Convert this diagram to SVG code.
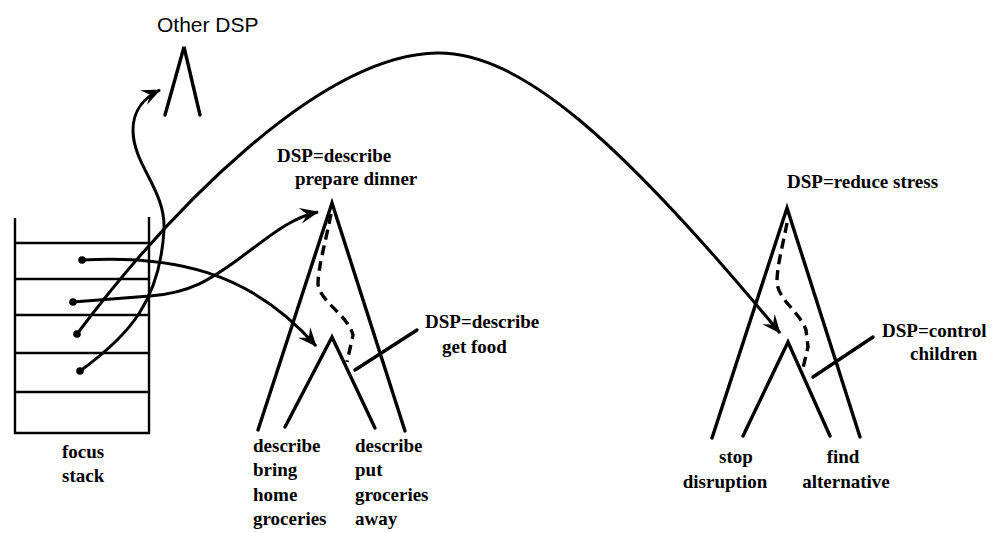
<svg xmlns="http://www.w3.org/2000/svg" width="995" height="533" viewBox="0 0 995 533">
<defs>
<style>
.ln{stroke:#000;stroke-width:3.4;fill:none;stroke-linecap:round}
.stk{stroke:#000;stroke-width:2.4;fill:none}
.dash{stroke:#000;stroke-width:3.4;fill:none;stroke-dasharray:10 6}
.con{stroke:#000;stroke-width:3;fill:none;marker-end:url(#ah)}
.t{font-family:"Liberation Serif","Times New Roman",serif;font-weight:bold;font-size:19px;fill:#000}
.s{font-family:"Liberation Sans",Arial,sans-serif;font-size:21px;fill:#000}
</style>
<marker id="ah" viewBox="-20 -10 22 20" refX="0" refY="0" markerWidth="22" markerHeight="20" markerUnits="userSpaceOnUse" orient="auto">
<path d="M1,0 L-18,-8 L-11,0 L-18,8 Z" fill="#000"/>
</marker>
</defs>
<rect width="995" height="533" fill="#fff"/>

<g id="focus-stack">
<path class="stk" d="M15,218 V433 H149 V217"/>
<path class="stk" d="M15,243 H149 M15,279 H149 M15,315 H149 M15,353 H149 M15,392 H149"/>
<circle cx="82" cy="260" r="3.8"/>
<circle cx="73" cy="302" r="3.8"/>
<circle cx="77" cy="334" r="3.8"/>
<circle cx="80" cy="371" r="3.8"/>
<text class="t" x="62" y="458">focus</text>
<text class="t" x="62" y="482">stack</text>
</g>

<g id="other-dsp">
<text class="s" x="157" y="32">Other DSP</text>
<path class="ln" d="M165,115 L184,47 L200,115"/>
</g>

<g id="tree-prepare-dinner">
<text class="t" x="277" y="162">DSP=describe</text>
<text class="t" x="295" y="185">prepare dinner</text>
<path class="ln" d="M258,430 L332,203 L405,431"/>
<path class="ln" d="M285,427 L332,337 L375,428"/>
<path class="dash" d="M331,214 C 326,240 318,268 318,284 C 320,302 348,315 353,335 L 347,362"/>
<path class="ln" d="M355,370 L417,330"/>
<text class="t" x="425" y="328">DSP=describe</text>
<text class="t" x="442" y="353">get food</text>
<text class="t" x="253" y="452">describe</text>
<text class="t" x="253" y="476">bring</text>
<text class="t" x="253" y="501">home</text>
<text class="t" x="253" y="525">groceries</text>
<text class="t" x="355" y="452">describe</text>
<text class="t" x="355" y="476">put</text>
<text class="t" x="355" y="501">groceries</text>
<text class="t" x="355" y="525">away</text>
</g>

<g id="tree-reduce-stress">
<text class="t" x="787" y="188">DSP=reduce stress</text>
<path class="ln" d="M712,438 L787,208 L860,437"/>
<path class="ln" d="M743,436 L788,342 L830,436"/>
<path class="dash" d="M787,223 C 783,245 777,265 777,282 C 778,300 800,312 806,330 L 808,347 L 803,368"/>
<path class="ln" d="M813,377 L873,337"/>
<text class="t" x="882" y="337">DSP=control</text>
<text class="t" x="910" y="360">children</text>
<text class="t" x="736" y="463" text-anchor="middle">stop</text>
<text class="t" x="725" y="488" text-anchor="middle">disruption</text>
<text class="t" x="843" y="463" text-anchor="middle">find</text>
<text class="t" x="846" y="488" text-anchor="middle">alternative</text>
</g>

<g id="connectors">
<path class="con" d="M82,260 C 170,255 250,270 316,346"/>
<path class="con" d="M73,302 L150,296 C 190,293 210,280 240,258 C 270,236 290,218 318,212"/>
<path class="con" d="M77,334 C 170,210 320,55 437,53 C 520,52 620,140 780,333"/>
<path class="con" d="M80,371 C 130,335 160,300 164,230 C 166,190 133,165 133,130 C 133,110 145,97 160,90"/>
</g>
</svg>
